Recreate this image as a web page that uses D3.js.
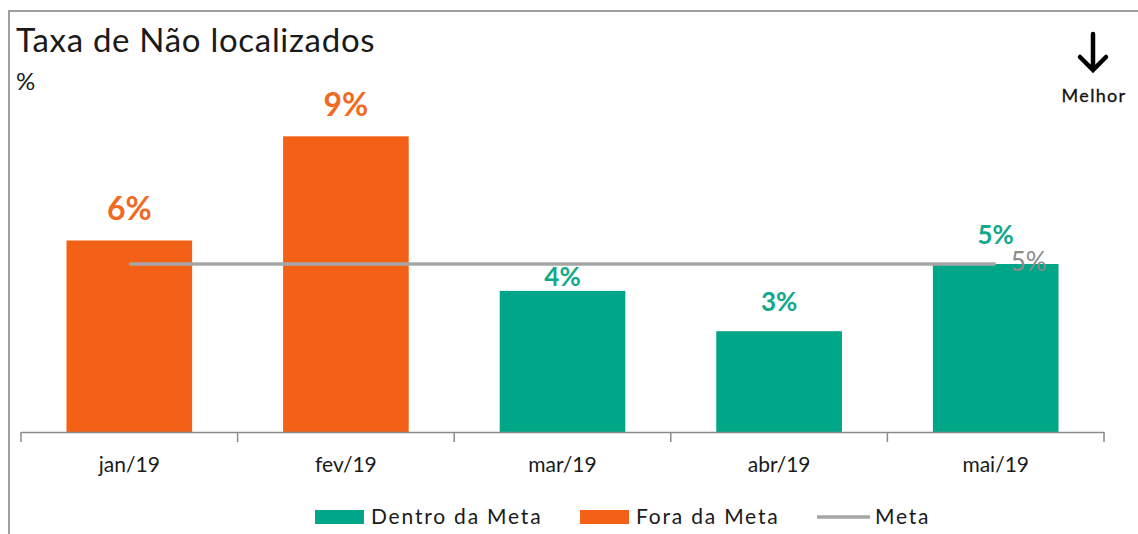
<!DOCTYPE html>
<html>
<head>
<meta charset="utf-8">
<script src="https://cdn.jsdelivr.net/npm/d3@7"></script>
<style>
  body { margin: 0; background: #fff; }
  svg { display: block; font-family: Lato, 'Noto Sans', sans-serif; }
</style>
</head>
<body>
<svg width="1138" height="534"></svg>
<script>
const months = ['jan/19', 'fev/19', 'mar/19', 'abr/19', 'mai/19']
const values = [5.7, 8.8, 4.2, 3.0, 5.0]
const meta = [5.0, 5.0, 5.0, 5.0, 5.0]
const legendLabels = ['Dentro da Meta', 'Fora da Meta', 'Meta']

const width = 1138
const height = 534
const teal = '#00a688'
const orange = '#f26116'
const grey = '#a6a6a6'

const data = months.map((m, i) => ({ month: m, value: values[i], meta: meta[i] }))

const svg = d3.select('svg')

// frame
svg.append('rect')
  .attr('x', 9).attr('y', 11)
  .attr('width', width).attr('height', height)
  .attr('fill', 'none')
  .attr('stroke', '#a0a0a0')
  .attr('stroke-width', 2)

// title
svg.append('text')
  .attr('x', 16).attr('y', 52)
  .style('font-size', '33px')
  .style('letter-spacing', '0.7px')
  .attr('fill', '#1a1a1a')
  .text('Taxa de Não localizados')

svg.append('text')
  .attr('x', 16).attr('y', 90)
  .style('font-size', '24px')
  .attr('fill', '#1a1a1a')
  .text('%')

// better arrow
svg.append('path')
  .attr('d', 'M1093,34 V69 M1080,57 L1093,70 L1106,57')
  .attr('fill', 'none')
  .attr('stroke', '#000')
  .attr('stroke-width', 4.5)
  .attr('stroke-linecap', 'round')
  .attr('stroke-linejoin', 'miter')

svg.append('text')
  .attr('x', 1094).attr('y', 102)
  .attr('text-anchor', 'middle')
  .style('font-size', '18px')
  .style('letter-spacing', '1.3px')
  .attr('fill', '#111')
  .attr('stroke', '#111')
  .attr('stroke-width', 0.3)
  .text('Melhor')

// scales
const x = d3.scaleBand()
  .domain(months)
  .range([21, 1104])
  .padding(0)

const y = d3.scaleLinear()
  .domain([0, 10])
  .range([432, 96])

const barW = x.bandwidth() * 0.58
const color = d => d.value > d.meta ? orange : teal

// bars
svg.append('g').selectAll('rect')
  .data(data)
  .enter().append('rect')
  .attr('x', d => x(d.month) + (x.bandwidth() - barW) / 2)
  .attr('y', d => y(d.value))
  .attr('width', barW)
  .attr('height', d => y(0) - y(d.value))
  .attr('fill', color)

// axis
const xAxis = d3.axisBottom(x).tickSize(0).tickPadding(0)
const gx = svg.append('g')
  .attr('transform', `translate(0, ${y(0)})`)
  .call(xAxis)
gx.select('.domain').attr('stroke', '#8a8a8a').attr('stroke-width', 1.5)
gx.selectAll('text')
  .attr('y', 40).attr('dy', 0)
  .style('font-size', '21px')
  .style('font-family', 'Lato, sans-serif')
  .attr('fill', '#1a1a1a')

// ticks on band edges
const edges = d3.range(months.length + 1).map(i => x.range()[0] + i * x.step())
gx.selectAll('.edge')
  .data(edges)
  .enter().append('line')
  .attr('x1', d => d).attr('x2', d => d)
  .attr('y1', 0).attr('y2', 10)
  .attr('stroke', '#8a8a8a')
  .attr('stroke-width', 1.5)

// meta line
const line = d3.line()
  .x(d => x(d.month) + x.bandwidth() / 2)
  .y(d => y(d.meta))
svg.append('path')
  .datum(data)
  .attr('d', line)
  .attr('fill', 'none')
  .attr('stroke', grey)
  .attr('stroke-width', 3.5)

const last = data[data.length - 1]
svg.append('text')
  .attr('x', x(last.month) + x.bandwidth() / 2 + 15)
  .attr('y', y(last.meta) + 7)
  .style('font-size', '26px')
  .attr('fill', '#8c8c8c')
  .text(d3.format('.0f')(last.meta) + '%')

// value labels, pushed under the meta line when they would cross it
svg.append('g').selectAll('text')
  .data(data)
  .enter().append('text')
  .attr('x', d => x(d.month) + x.bandwidth() / 2)
  .attr('y', d => {
    const size = d.value > d.meta ? 32 : 26
    let base = y(d.value) - 20
    const top = base - size * 0.72
    const my = y(d.meta)
    if (top < my && base > my) base = my + size * 0.72 + 3
    return base
  })
  .attr('text-anchor', 'middle')
  .style('font-size', d => d.value > d.meta ? '32px' : '26px')
  .style('font-weight', 'bold')
  .attr('fill', d => d.value > d.meta ? '#f26a1f' : '#13a88c')
  .text(d => d3.format('.0f')(d.value) + '%')

// legend
const legend = svg.append('g').attr('transform', 'translate(0, 517)')
const items = [
  { label: legendLabels[0], x: 315, type: 'rect', color: teal },
  { label: legendLabels[1], x: 580, type: 'rect', color: orange },
  { label: legendLabels[2], x: 817, type: 'line', color: grey }
]
items.forEach(it => {
  if (it.type === 'rect') {
    legend.append('rect')
      .attr('x', it.x).attr('y', -7)
      .attr('width', 49).attr('height', 14)
      .attr('fill', it.color)
  } else {
    legend.append('line')
      .attr('x1', it.x).attr('x2', it.x + 53)
      .attr('y1', 0).attr('y2', 0)
      .attr('stroke', it.color)
      .attr('stroke-width', 3.5)
  }
  legend.append('text')
    .attr('x', it.x + (it.type === 'rect' ? 56 : 58))
    .attr('y', 7)
    .style('font-size', '21px')
    .style('letter-spacing', '1.8px')
    .attr('fill', '#1a1a1a')
    .text(it.label)
})
</script>
</body>
</html>
